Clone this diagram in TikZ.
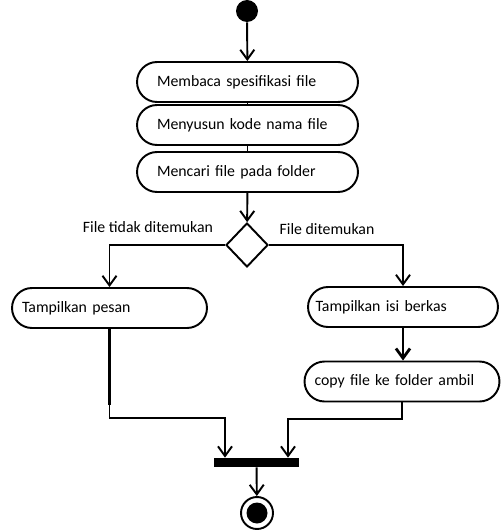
\documentclass[tikz,border=0pt]{standalone}
\usepackage{fontspec}
\setmainfont{Carlito}
\usetikzlibrary{shapes.geometric,arrows.meta}

\begin{document}
\begin{tikzpicture}[x=0.02cm,y=-0.02cm,
  garis/.style={line width=1.1pt},
  aksi/.style={draw,line width=1.1pt,rounded corners=0.4cm,minimum height=0.8cm,
    align=left,inner ysep=0pt,font=\fontsize{9}{11}\selectfont},
  >={Straight Barb[length=5.5pt,width=8pt]}]
\useasboundingbox (0,0) rectangle (500,530);
% aktivitas utama
\node[circle,fill=black,minimum size=0.44cm,inner sep=0] (mulai) at (247,11) {};
\node[aksi,text width=3.62cm,inner xsep=0.4cm] (baca) at (247.5,82) {Membaca spesifikasi file};
\node[aksi,text width=3.62cm,inner xsep=0.4cm] (susun) at (247.5,125) {Menyusun kode nama file};
\node[aksi,text width=3.62cm,inner xsep=0.4cm] (cari) at (247.5,172) {Mencari file pada folder};
\node[draw,diamond,line width=1.1pt,minimum width=0.84cm,minimum height=0.88cm,inner sep=0] (cek) at (247,245) {};
\node[font=\fontsize{9}{11}\selectfont] (lbltidak) at (148,227) {File tidak ditemukan};
\node[font=\fontsize{9}{11}\selectfont] (lblada) at (327,229) {File ditemukan};
\node[aksi,text width=3.5cm,inner xsep=0.2cm] (pesan) at (109.5,308) {Tampilkan pesan};
\node[aksi,text width=3.5cm,inner xsep=0.15cm] (isi) at (403,307) {Tampilkan isi berkas};
\node[aksi,text width=3.5cm,inner xsep=0.2cm] (copy) at (402,381.5) {copy file ke folder ambil};
\node[fill=black,minimum width=1.7cm,minimum height=0.18cm,inner sep=0] (gabung) at (256.5,462.5) {};
\node[circle,draw,line width=1.1pt,minimum size=0.64cm,inner sep=0] (selesai) at (257,513) {};
\node[circle,fill=black,minimum size=0.42cm,inner sep=0] (selesaiisi) at (selesai) {};
\coordinate (kiri) at (225,418);
\coordinate (kanan) at (288,419);
% alur
\draw[garis,->] (mulai) -- (baca);
\draw[garis] (baca) -- (susun);
\draw[garis] (susun) -- (cari);
\draw[garis,->] (cari) -- (cek);
\draw[garis,->] (cek.west) -| (pesan.north);
\draw[garis,->] (cek.east) -| (isi.north);
\draw[line width=1.6pt,->] (isi.south) -- (isi.south |- copy.north);
\draw[line width=1.6pt] (pesan.south) -- ++(0,76);
\draw[garis,->] (pesan.south) |- (kiri) -- (kiri |- gabung.north);
\draw[garis,->] (copy.south) |- (kanan) -- (kanan |- gabung.north);
\draw[garis,->] (gabung) -- (selesai);
\end{tikzpicture}
\end{document}
